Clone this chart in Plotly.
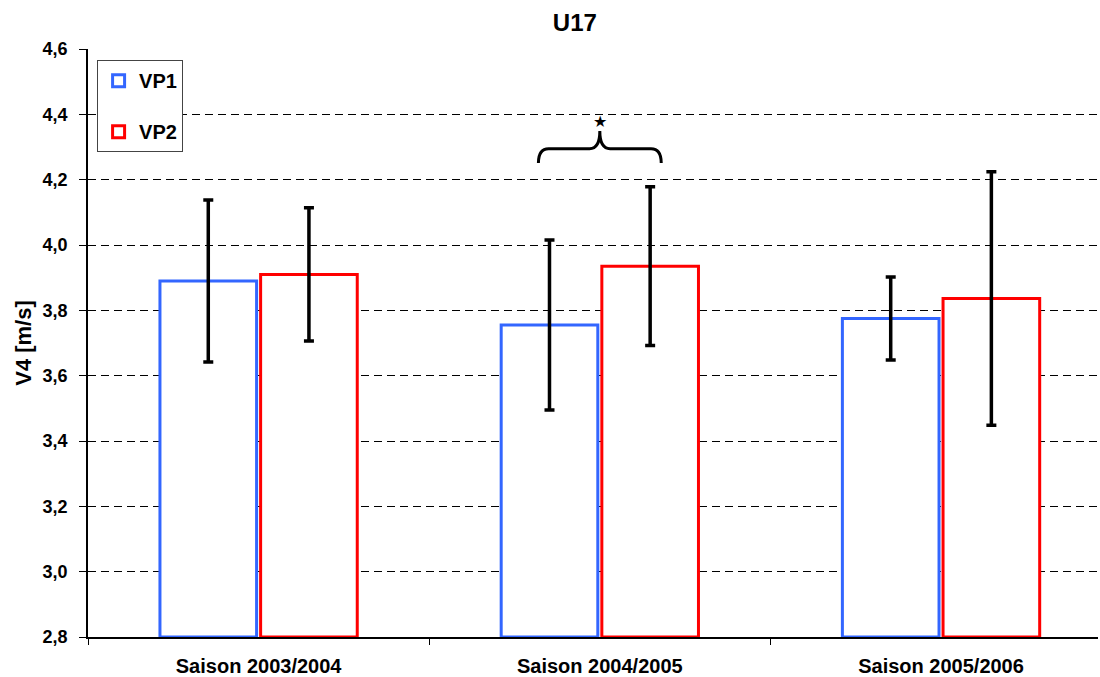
import plotly.graph_objects as go

# Season categories and group means / standard deviations of V4
seasons = ["Saison 2003/2004", "Saison 2004/2005", "Saison 2005/2006"]
vp1_mean = [3.89, 3.755, 3.775]
vp1_sd = [0.248, 0.26, 0.127]
vp2_mean = [3.91, 3.935, 3.836]
vp2_sd = [0.204, 0.243, 0.388]

y_ticks = [2.8, 3.0, 3.2, 3.4, 3.6, 3.8, 4.0, 4.2, 4.4, 4.6]

FONT = "Liberation Sans, Arial, sans-serif"
BLUE = "#3366FF"
RED = "#FF0000"

fig = go.Figure()

for name, means, sds, color in [("VP1", vp1_mean, vp1_sd, BLUE),
                                ("VP2", vp2_mean, vp2_sd, RED)]:
    fig.add_trace(go.Bar(
        name=name,
        x=seasons,
        y=[m - y_ticks[0] for m in means],
        base=y_ticks[0],
        marker=dict(color="white", line=dict(color=color, width=3)),
        error_y=dict(type="data", array=sds, visible=True,
                     color="black", thickness=3.5, width=5),
        legendgroup=name,
    ))

# Significance bracket over the 2004/2005 pair
brace_left, brace_mid, brace_right = 0.82, 1.0, 1.18
y_end, y_bar, y_peak = 4.251, 4.295, 4.349
dx = 0.03
path = (
    f"M {brace_left} {y_end} "
    f"Q {brace_left} {y_bar} {brace_left + dx} {y_bar} "
    f"L {brace_mid - dx} {y_bar} "
    f"Q {brace_mid} {y_bar} {brace_mid} {y_peak} "
    f"Q {brace_mid} {y_bar} {brace_mid + dx} {y_bar} "
    f"L {brace_right - dx} {y_bar} "
    f"Q {brace_right} {y_bar} {brace_right} {y_end}"
)
fig.add_shape(type="path", path=path, xref="x", yref="y",
              line=dict(color="black", width=3))
fig.add_annotation(x=brace_mid, y=4.378, xref="x", yref="y", text="★",
                   showarrow=False, font=dict(size=16, color="black",
                                              family="DejaVu Sans"))

fig.update_layout(
    width=1100, height=677,
    margin=dict(l=88, r=2, t=49, b=40),
    paper_bgcolor="white", plot_bgcolor="white",
    separators=", ",
    barmode="group", bargap=0.41, bargroupgap=0.04,
    font=dict(family=FONT, color="black"),
    title=dict(text="U17", x=0.482, xref="paper", y=0.966, yanchor="middle",
               font=dict(size=24, weight="bold", family=FONT)),
    showlegend=True,
    legend=dict(x=0.009, y=0.981, xanchor="left", yanchor="top",
                bgcolor="white", bordercolor="#444", borderwidth=1,
                font=dict(size=20, weight="bold", family=FONT),
                traceorder="grouped", tracegroupgap=22,
                itemwidth=31, entrywidth=62, entrywidthmode="pixels"),
    xaxis=dict(
        type="category",
        range=[-0.5, 2.46],
        automargin=False,
        showline=True, linecolor="black", linewidth=2,
        ticks="outside", tickson="boundaries", ticklen=6, tickcolor="black",
        tickfont=dict(size=20, weight="bold", family=FONT),
        ticklabelstandoff=10,
        showgrid=False,
    ),
    yaxis=dict(
        range=[2.8, 4.6], tickvals=y_ticks, tickformat=".1f",
        automargin=False,
        showline=True, linecolor="black", linewidth=1.5,
        ticks="outside", ticklen=7, tickcolor="black",
        tickfont=dict(size=18, weight="bold", family=FONT),
        ticklabelstandoff=8,
        showgrid=True, gridcolor="black", gridwidth=1, griddash="8px,5px",
        zeroline=False,
        title=dict(text="V4 [m/s]", standoff=5,
                   font=dict(size=22, weight="bold", family=FONT)),
    ),
)

fig.write_html("out.html")
